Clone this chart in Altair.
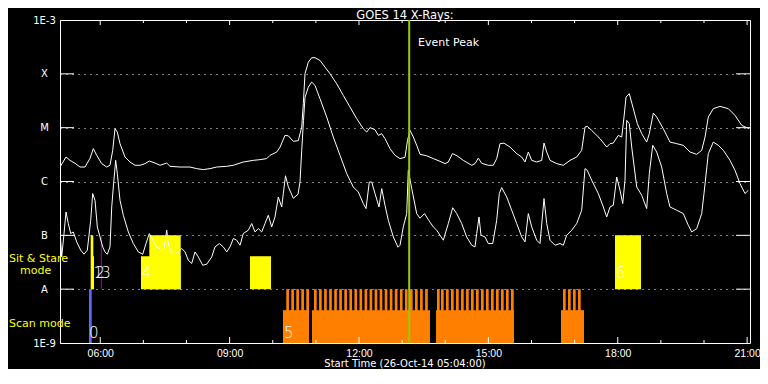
import altair as alt
import pandas as pd

FONT = "DejaVu Sans"
TICK_FONT = "Liberation Sans"

# ---------------- data (hours of 26-Oct-2014, log10 of flux in W/m^2) ----------------
T_START, T_END = 5.0667, 21.0667          # 05:04 .. 21:04
EVENT_PEAK_T = 13.164

LONG_T = [5.067, 5.206, 5.299, 5.415, 5.531, 5.647, 5.763, 5.839, 5.918, 6.034,
          6.150, 6.226, 6.289, 6.342, 6.396, 6.458, 6.574, 6.690, 6.806, 6.922,
          7.038, 7.138, 7.270, 7.386, 7.541, 7.618, 7.850, 8.081, 8.237, 8.390,
          8.545, 8.701, 8.933, 9.086, 9.317, 9.549, 9.705, 9.860, 9.936, 10.092,
          10.170, 10.284, 10.361, 10.477, 10.593, 10.672, 10.709, 10.748, 10.825, 10.903,
          10.980, 11.096, 11.212, 11.328, 11.483, 11.636, 11.792, 11.947, 12.100, 12.179,
          12.255, 12.371, 12.448, 12.527, 12.603, 12.719, 12.835, 12.951, 13.067, 13.125,
          13.183, 13.260, 13.338, 13.415, 13.570, 13.723, 13.879, 13.995, 14.071, 14.168,
          14.273, 14.419, 14.614, 14.690, 14.767, 14.845, 14.998, 15.114, 15.193, 15.270,
          15.363, 15.502, 15.657, 15.773, 15.850, 15.926, 16.005, 16.121, 16.237, 16.290,
          16.353, 16.429, 16.585, 16.738, 16.893, 17.048, 17.164, 17.241, 17.294, 17.396,
          17.589, 17.744, 17.821, 17.897, 18.013, 18.092, 18.145, 18.192, 18.268, 18.361,
          18.454, 18.556, 18.671, 18.732, 18.825, 18.903, 19.056, 19.211, 19.367, 19.520,
          19.676, 19.831, 19.947, 20.024, 20.100, 20.216, 20.371, 20.564, 20.719, 20.875,
          20.991, 21.051]
LONG_LG = [-5.731, -5.545, -5.607, -5.662, -5.731, -5.731, -5.570, -5.390, -5.514, -5.668,
           -5.731, -5.699, -5.421, -5.019, -5.082, -5.297, -5.545, -5.638, -5.699, -5.699,
           -5.668, -5.620, -5.657, -5.699, -5.657, -5.718, -5.731, -5.731, -5.761, -5.779,
           -5.761, -5.731, -5.718, -5.699, -5.638, -5.607, -5.594, -5.575, -5.514, -5.453,
           -5.360, -5.143, -5.152, -5.254, -5.241, -4.989, -4.555, -3.998, -3.783, -3.701,
           -3.701, -3.751, -3.876, -3.998, -4.184, -4.401, -4.618, -4.833, -5.019, -5.082,
           -5.000, -5.037, -5.143, -5.111, -5.204, -5.390, -5.514, -5.575, -5.551, -5.236,
           -5.050, -5.174, -5.328, -5.495, -5.523, -5.575, -5.625, -5.668, -5.638, -5.482,
           -5.523, -5.607, -5.699, -5.668, -5.566, -5.662, -5.699, -5.699, -5.575, -5.297,
           -5.288, -5.360, -5.482, -5.545, -5.638, -5.453, -5.607, -5.638, -5.607, -5.286,
           -5.453, -5.607, -5.668, -5.699, -5.607, -5.545, -5.421, -4.989, -4.976, -5.050,
           -5.204, -5.360, -5.297, -5.286, -5.143, -5.174, -4.803, -4.432, -4.369, -4.647,
           -4.926, -5.111, -5.267, -5.111, -4.729, -4.803, -5.019, -5.267, -5.297, -5.328,
           -5.453, -5.495, -5.421, -5.174, -4.803, -4.647, -4.605, -4.647, -4.772, -4.957,
           -5.000, -5.019]

SHORT_T = [5.075, 5.106, 5.160, 5.206, 5.259, 5.315, 5.375, 5.454, 5.547, 5.624, 5.700,
           5.779, 5.825, 5.879, 5.932, 5.994, 6.057, 6.110, 6.164, 6.226, 6.266,
           6.303, 6.358, 6.396, 6.458, 6.535, 6.651, 6.767, 6.883, 6.985, 7.061,
           7.138, 7.217, 7.309, 7.425, 7.479, 7.541, 7.578, 7.657, 7.734, 7.810,
           7.889, 7.966, 8.042, 8.121, 8.197, 8.274, 8.376, 8.469, 8.585, 8.661,
           8.761, 8.854, 8.932, 9.009, 9.086, 9.164, 9.241, 9.317, 9.433, 9.512,
           9.589, 9.665, 9.744, 9.820, 9.897, 9.976, 10.052, 10.129, 10.208, 10.245,
           10.296, 10.361, 10.477, 10.586, 10.632, 10.672, 10.713, 10.748, 10.825, 10.903,
           10.980, 11.096, 11.251, 11.404, 11.560, 11.715, 11.868, 11.984, 12.100, 12.163,
           12.239, 12.295, 12.371, 12.464, 12.527, 12.603, 12.680, 12.796, 12.905, 12.951,
           13.027, 13.106, 13.143, 13.222, 13.338, 13.415, 13.519, 13.624, 13.723, 13.802,
           13.955, 14.071, 14.173, 14.266, 14.381, 14.497, 14.614, 14.690, 14.730, 14.783,
           14.829, 14.922, 14.998, 15.101, 15.193, 15.254, 15.309, 15.425, 15.541, 15.657,
           15.773, 15.850, 15.926, 16.005, 16.121, 16.197, 16.290, 16.353, 16.429, 16.545,
           16.661, 16.738, 16.816, 16.932, 17.048, 17.164, 17.241, 17.294, 17.396, 17.549,
           17.665, 17.744, 17.821, 17.897, 17.976, 18.053, 18.115, 18.168, 18.208, 18.268,
           18.324, 18.440, 18.556, 18.671, 18.732, 18.811, 18.903, 19.019, 19.135, 19.211,
           19.367, 19.520, 19.636, 19.715, 19.831, 19.947, 20.000, 20.100, 20.216, 20.332,
           20.448, 20.603, 20.719, 20.835, 20.951, 21.028]
SHORT_LG = [-7.000, -7.401, -6.967, -6.566, -6.781, -6.967, -6.937, -7.122, -7.276, -7.351, -7.276,
            -6.720, -6.224, -6.349, -6.844, -7.030, -7.215, -7.308, -7.351, -7.215, -6.473,
            -6.102, -5.607, -5.853, -6.349, -6.627, -6.937, -7.152, -7.308, -7.351, -7.152,
            -6.967, -7.091, -7.215, -7.276, -7.245, -6.905, -7.152, -7.338, -7.338, -7.308,
            -7.245, -7.308, -7.462, -7.523, -7.308, -7.401, -7.555, -7.536, -7.401, -7.215,
            -7.152, -7.215, -7.308, -7.215, -7.059, -7.091, -7.184, -6.967, -6.905, -6.781,
            -6.937, -6.874, -6.937, -6.781, -6.627, -6.844, -6.659, -6.288, -6.473, -6.224,
            -5.894, -6.098, -6.312, -6.237, -6.009, -5.421, -4.865, -4.438, -4.247, -4.154,
            -4.215, -4.462, -4.803, -5.174, -5.514, -5.853, -6.102, -6.195, -6.410, -6.503,
            -6.009, -6.009, -6.224, -6.473, -6.132, -6.442, -6.720, -7.030, -7.221, -7.184,
            -6.844, -6.596, -5.792, -6.126, -6.596, -6.683, -6.596, -6.729, -6.844, -6.905,
            -7.091, -6.781, -6.488, -6.596, -6.781, -7.030, -7.184, -7.215, -6.967, -6.659,
            -6.998, -7.030, -7.152, -7.152, -6.720, -6.224, -6.113, -6.288, -6.534, -6.781,
            -7.030, -7.122, -6.596, -6.844, -7.091, -7.152, -6.317, -6.781, -7.091, -7.184,
            -7.152, -7.184, -6.998, -6.905, -6.781, -6.534, -5.761, -5.792, -5.978, -6.224,
            -6.473, -6.659, -6.473, -6.442, -5.917, -6.163, -6.410, -5.978, -4.865, -4.926,
            -5.360, -6.102, -6.256, -6.503, -5.853, -5.328, -5.453, -5.731, -6.224, -6.473,
            -6.534, -6.596, -6.813, -6.937, -6.874, -6.596, -6.224, -5.482, -5.267, -5.328,
            -5.421, -5.607, -5.792, -6.039, -6.224, -6.163]

# Sit & Stare observations (yellow): start, end, top (log10 flux); all start at level A
SS_START = [5.778, 5.800, 6.945, 7.138, 9.473, 17.936]
SS_END = [5.839, 5.855, 7.866, 7.866, 9.960, 18.539]
SS_TOP = [-7.0, -7.388, -7.388, -7.0, -7.388, -7.0]

# Scan observation 0 (blue) and observation 3 (thin magenta)
BLUE_START, BLUE_END = 5.739, 5.802
MAGENTA_T = 6.024

# Scan mode blocks (orange) and individual rasters
SCAN_START = [10.238, 10.910, 13.786, 16.684]
SCAN_END = [10.818, 13.646, 15.594, 17.217]
SCAN_TOP = -8.39
RASTER_START = [10.314, 10.430, 10.546, 10.662, 10.778,
                10.957, 11.074, 11.191, 11.308, 11.425, 11.542, 11.659, 11.777, 11.894, 12.011,
                12.128, 12.245, 12.362, 12.479, 12.596, 12.713, 12.830, 12.948, 13.065, 13.182,
                13.299, 13.416, 13.533,
                13.809, 13.902, 14.018, 14.134, 14.250, 14.366, 14.482, 14.597, 14.713, 14.829,
                14.945, 15.061, 15.177, 15.293, 15.409, 15.525,
                16.731, 16.847, 16.963, 17.079]
RASTER_LEN = 0.062

OBS_LABELS = ["0", "1", "2", "3", "4", "5", "6"]
OBS_LABEL_T = [5.739, 5.843, 5.890, 6.024, 6.961, 10.261, 17.960]
OBS_LABEL_LG = [-8.807, -7.694, -7.694, -7.694, -7.694, -8.807, -7.694]

DECADE_LG = [-9, -8, -7, -6, -5, -4, -3]
DECADE_NAMES = ["1E-9", "A", "B", "C", "M", "X", "1E-3"]
MAJOR_HOURS = [6, 9, 12, 15, 18, 21]
MINOR_HOURS = [7, 8, 10, 11, 13, 14, 16, 17, 19, 20]

TITLE = "GOES 14 X-Rays:"
X_TITLE = "Start Time (26-Oct-14 05:04:00)"
MODE_TEXT = ["Sit & Stare", "Scan mode"]
MODE_TEXT_LG = [-7.443, -8.649]
MODE_TEXT2 = ["mode"]
MODE_TEXT2_LG = [-7.666]

# ---------------- tables ----------------
curves = pd.DataFrame(
    {"t": LONG_T + SHORT_T,
     "flux": [10 ** v for v in LONG_LG + SHORT_LG],
     "band": ["long"] * len(LONG_T) + ["short"] * len(SHORT_T)})

rects = pd.DataFrame(
    {"t": SS_START + [BLUE_START] + SCAN_START + RASTER_START,
     "t1": SS_END + [BLUE_END] + SCAN_END + [s + RASTER_LEN for s in RASTER_START],
     "flux": [1e-8] * len(SS_START) + [1e-9] + [1e-9] * len(SCAN_START) + [1e-9] * len(RASTER_START),
     "y1": [10 ** v for v in SS_TOP] + [1e-8] + [10 ** SCAN_TOP] * len(SCAN_START)
           + [1e-8] * len(RASTER_START),
     "kind": ["sit"] * len(SS_START) + ["blue"] + ["scan"] * len(SCAN_START)
             + ["scan"] * len(RASTER_START)})

labels = pd.DataFrame({"t": OBS_LABEL_T, "flux": [10 ** v for v in OBS_LABEL_LG], "txt": OBS_LABELS})
decades = pd.DataFrame({"flux": [10 ** v for v in DECADE_LG[1:-1]]})
major = pd.DataFrame({"t": MAJOR_HOURS})
minor = pd.DataFrame({"t": MINOR_HOURS})
magenta = pd.DataFrame({"t": [MAGENTA_T], "flux": [1e-8], "y1": [1e-7]})
event = pd.DataFrame({"t": [EVENT_PEAK_T]})
event_txt = pd.DataFrame({"t": [13.368], "flux": [3.7e-4], "txt": ["Event Peak"]})
mode_txt = pd.DataFrame({"flux": [10 ** v for v in MODE_TEXT_LG], "txt": MODE_TEXT})
mode_txt2 = pd.DataFrame({"flux": [10 ** v for v in MODE_TEXT2_LG], "txt": MODE_TEXT2})
title_df = pd.DataFrame({"txt": [TITLE]})
xtitle_df = pd.DataFrame({"txt": [X_TITLE]})

W, H = 690, 323
xs = alt.Scale(domain=[T_START, T_END], nice=False, zero=False)
ys = alt.Scale(type="log", domain=[1e-9, 1e-3], nice=False)

label_expr = " : ".join(
    f"datum.value > {10 ** (lg - 0.5):.3e} ? '{nm}'" for lg, nm in
    zip(DECADE_LG[::-1][:-1], DECADE_NAMES[::-1][:-1])) + f" : '{DECADE_NAMES[0]}'"

Y_AXIS = alt.Axis(values=[10 ** v for v in DECADE_LG], labelExpr=label_expr, ticks=False, tickSize=0,
                  domain=False, labelAlign="center", labelBaseline="middle", labelPadding=16,
                  labelColor="white", labelFont=FONT, labelFontSize=10, labelOverlap=False,
                  grid=True, gridColor="white", gridDash=[1, 5], gridOpacity=1, gridWidth=1,
                  title=None)
X_AXIS = alt.Axis(values=MAJOR_HOURS, labelExpr="(datum.value < 10 ? '0' : '') + datum.value + ':00'",
                  ticks=False, tickSize=0, domain=False, labelPadding=5, labelColor="white",
                  labelFont=TICK_FONT, labelFontSize=10.5, labelFlush=False, labelOverlap=False,
                  grid=False, title=None)


def XE(field="t"):
    return alt.X(f"{field}:Q", scale=xs, axis=X_AXIS, title=None)


def YE(field="flux"):
    return alt.Y(f"{field}:Q", scale=ys, axis=Y_AXIS, title=None)


bars = alt.Chart(rects).mark_rect().encode(
    x=XE(), x2="t1:Q", y=YE(), y2="y1:Q",
    color=alt.Color("kind:N", scale=alt.Scale(domain=["sit", "blue", "scan"],
                                              range=["#ffff00", "#6464ff", "#ff8000"]), legend=None))

mag = alt.Chart(magenta).mark_rule(color="#b400b4", strokeWidth=1).encode(
    x=XE(), y=YE(), y2="y1:Q")

lines = alt.Chart(curves).mark_line(color="white", strokeWidth=1, clip=True).encode(
    x=XE(), y=YE(), detail="band:N")

ytick_l = alt.Chart(decades).mark_rule(color="white", strokeWidth=1).encode(
    y=YE(), x=alt.value(0), x2=alt.value(14))
ytick_r = alt.Chart(decades).mark_rule(color="white", strokeWidth=1).encode(
    y=YE(), x=alt.value(W - 14), x2=alt.value(W))


def tick_layer(df, y0, y1):
    return alt.Chart(df).mark_rule(color="white", strokeWidth=1).encode(
        x=XE(), y=alt.value(y0), y2=alt.value(y1))


ticks = [tick_layer(major, H, H - 6), tick_layer(major, 0, 5),
         tick_layer(minor, H, H - 3), tick_layer(minor, 0, 3)]

ev = alt.Chart(event).mark_rule(color="#99cc00", strokeWidth=2).encode(
    x=XE(), y=alt.value(0), y2=alt.value(H))

ev_t = alt.Chart(event_txt).mark_text(color="white", font=FONT, fontSize=11, align="left",
                                      baseline="middle").encode(
    x=XE(), y=YE(), text="txt:N")

obs_t = alt.Chart(labels).mark_text(color="white", font=FONT, fontSize=15, align="left",
                                    baseline="middle", fontWeight=300).encode(
    x=XE(), y=YE(), text="txt:N")

mode_a = alt.Chart(mode_txt).mark_text(
    color="#ffff00", font=FONT, fontSize=11, align="left", baseline="middle").encode(
    x=alt.value(-51), y=YE(), text="txt:N")
mode_b = alt.Chart(mode_txt2).mark_text(
    color="#ffff00", font=FONT, fontSize=11, align="left", baseline="middle").encode(
    x=alt.value(-40), y=YE(), text="txt:N")

title_t = alt.Chart(title_df).mark_text(color="white", font=FONT, fontSize=11.5, align="center",
                                        baseline="alphabetic").encode(
    x=alt.value(W / 2), y=alt.value(-1.5), text="txt:N")

xtitle_t = alt.Chart(xtitle_df).mark_text(color="white", font=FONT, fontSize=10, align="center",
                                          baseline="alphabetic").encode(
    x=alt.value(W / 2), y=alt.value(H + 23.5), text="txt:N")

chart = alt.layer(bars, mag, ytick_l, ytick_r, *ticks, lines, ev, ev_t, obs_t, mode_a, mode_b,
                  title_t, xtitle_t).properties(
    width=W, height=H,
    padding={"left": 52, "top": 12, "right": 10, "bottom": 26},
    autosize=alt.AutoSizeParams(type="none"),
).configure(background="black").configure_view(stroke="white", strokeWidth=1)

chart.save("out.html", embed_options={"renderer": "svg", "actions": False})
